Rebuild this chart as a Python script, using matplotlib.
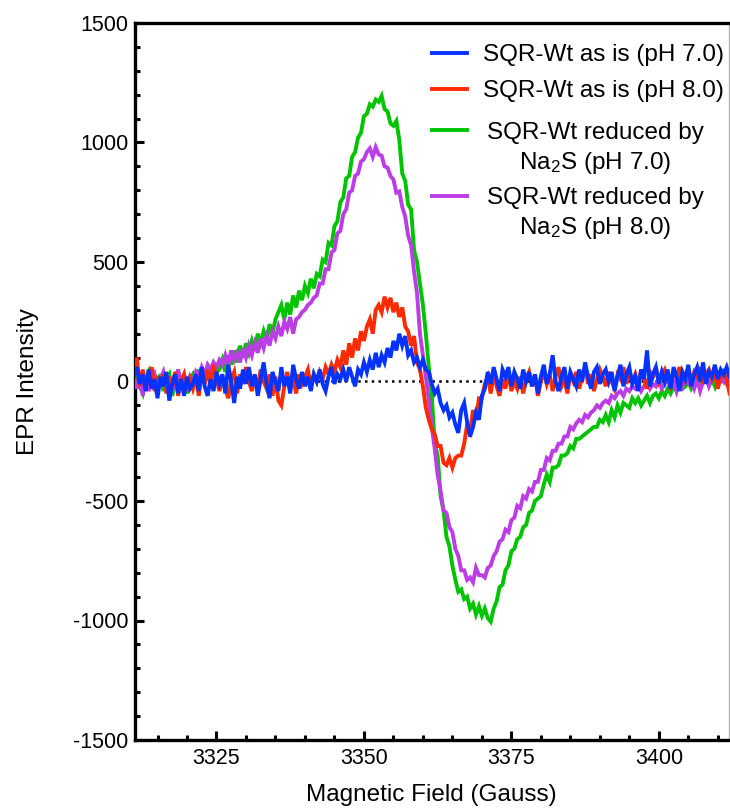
import numpy as np
import matplotlib
matplotlib.use("Agg")
import matplotlib.pyplot as plt
from matplotlib.ticker import MultipleLocator

plt.rcParams['font.family'] = ['Liberation Sans', 'DejaVu Sans']
plt.rcParams['mathtext.fontset'] = 'custom'
plt.rcParams['mathtext.rm'] = 'Liberation Sans'
plt.rcParams['mathtext.default'] = 'regular'
plt.rcParams['axes.unicode_minus'] = False

# Magnetic field axis: 0.5 G steps from 3311 to 3412 G
field = 3311.0 + 0.5 * np.arange(203)

# SQR-Wt as is (pH 7.0)
wt_ph7 = [
    20, 60, -10, 30, -40, 50, -30, 10, -70, 20,
    -20, 40, -80, -10, 30, -50, 10, -60, 20, -30,
    -10, 30, -40, 60, -20, -60, 10, -40, 40, -10,
    30, -50, 70, 0, -90, 20, -30, 50, -10, 60,
    -20, 30, -60, 10, 80, -10, -70, 40, 0, -40,
    60, -20, 20, -50, 70, 10, -30, 40, -20, 20,
    -40, 30, 0, 50, -10, -40, 20, 60, -10, 30,
    10, 50, 0, 60, 20, -20, 50, 30, 80, 40,
    90, 50, 120, 60, 110, 80, 140, 100, 170, 130,
    200, 150, 190, 110, 130, 80, 100, 60, 90, 50,
    40, -10, -50, -30, -90, -120, -100, -150, -130, -180,
    -215, -120, -90, -170, -230, -190, -130, -160, -60, -30,
    40, -10, 60, 10, -40, 50, 20, 60, -20, 40,
    10, -30, 50, 0, 40, -20, 30, -50, 20, 70,
    -10, 30, 110, 0, -40, 20, 60, -30, 40, 10,
    -20, 50, 0, 80, 20, -30, 40, 60, -10, 30,
    50, 0, 40, -40, 20, 70, -20, 30, 60, -10,
    20, -40, 50, 10, 130, -20, 30, 60, -10, 40,
    0, 50, -30, 60, 20, -40, 40, 10, 70, -20,
    30, 60, 0, 80, -10, 40, 20, 70, 10, 50,
    30, 60, 20,
]

# SQR-Wt as is (pH 8.0)
wt_ph8 = [
    40, 100, -20, 50, -30, 20, 60, -40, 10, -10,
    30, -50, 20, -20, 40, -60, 0, 30, -40, 10,
    -30, 20, -60, 40, -10, 50, -20, 70, 10, -40,
    20, -30, -70, 10, 40, -50, 30, -10, 60, 0,
    -40, 20, -20, 50, 0, -30, 30, -60, 20, -80,
    -100, -20, 40, -30, 10, -50, 30, -10, 20, 50,
    -20, 30, 0, 40, 10, 60, 30, 70, 40, 90,
    60, 130, 70, 160, 100, 180, 130, 210, 170, 230,
    260, 200, 300, 320, 290, 355, 310, 350, 290, 330,
    270, 310, 230, 210, 150, 190, 80, 50, -20, -110,
    -160, -200, -220, -270, -270, -340, -350, -320, -360, -320,
    -310, -310, -260, -180, -210, -120, -160, -70, -70, -10,
    20, -50, 30, -20, -60, 10, -30, 40, -40, 0,
    -30, 20, -50, 10, 40, -20, 30, -60, 0, 40,
    -10, 30, -40, 20, 60, -20, 10, -50, 30, 0,
    40, -30, 20, 60, -10, 30, -40, 10, 50, 20,
    -20, 40, 0, -30, 30, 10, 60, -10, 40, 0,
    30, -20, 50, 10, -30, 40, 20, 60, 0, 30,
    50, 10, -20, 40, 20, 60, -10, 30, 50, 0,
    40, 20, 60, -10, 30, 50, 10, 40, -30, 20,
    40, 10, -50,
]

# SQR-Wt reduced by Na2S (pH 7.0)
red_ph7 = [
    0, 60, -20, -50, 10, 40, -30, 20, -10, 30,
    -40, 10, 30, -60, 0, 40, -20, 20, -50, 10,
    30, -10, 50, 10, 40, 60, 20, 70, 40, 50,
    90, 40, 110, 70, 130, 80, 150, 100, 160, 120,
    170, 130, 200, 160, 210, 170, 240, 200, 260, 290,
    320, 260, 330, 280, 360, 310, 380, 340, 400, 370,
    430, 390, 450, 440, 510, 500, 580, 570, 650, 670,
    750, 770, 850, 860, 940, 960, 1020, 1040, 1110, 1120,
    1160, 1150, 1180, 1170, 1195, 1140, 1130, 1080, 1070, 1090,
    1010, 870, 840, 740, 720, 550, 500, 410, 320, 200,
    60, -60, -260, -310, -480, -540, -650, -690, -770, -830,
    -880, -870, -910, -900, -950, -930, -975, -940, -980, -950,
    -990, -1005, -950, -920, -860, -850, -790, -770, -710, -700,
    -660, -650, -610, -600, -550, -540, -500, -490, -480, -430,
    -390, -420, -360, -360, -350, -310, -310, -300, -270, -280,
    -240, -240, -230, -220, -210, -200, -190, -190, -160, -170,
    -140, -170, -120, -150, -100, -130, -90, -100, -110, -70,
    -90, -70, -100, -80, -60, -90, -60, -50, -70, -40,
    -60, -30, -50, -20, -40, -10, -30, -20, 0, -30,
    -10, 10, -20, 0, 20, -10, 10, -20, 30, 0,
    10, -10, 20,
]

# SQR-Wt reduced by Na2S (pH 8.0)
red_ph8 = [
    10, -30, 40, -60, 20, -40, 0, 30, -20, 10,
    40, -20, 20, -40, 10, 50, -10, 30, -30, 20,
    0, 40, 20, 60, 30, 70, 50, 80, 60, 90,
    70, 110, 70, 130, 90, 120, 80, 140, 100, 150,
    110, 160, 120, 180, 140, 190, 150, 210, 180, 230,
    190, 250, 220, 270, 200, 260, 270, 290, 300, 320,
    330, 350, 360, 410, 410, 470, 470, 540, 550, 620,
    630, 700, 720, 790, 800, 860, 870, 920, 930, 960,
    975, 940, 980, 950, 945, 900, 895, 860, 845, 790,
    795, 730, 690, 610, 570, 460, 370, 200, 110, 20,
    -80, -190, -280, -390, -460, -540, -550, -610, -630, -700,
    -730, -790, -790, -830, -820, -840, -780, -810, -810, -820,
    -780, -770, -730, -710, -670, -660, -620, -630, -580, -570,
    -520, -530, -480, -490, -450, -460, -420, -420, -370, -370,
    -320, -330, -290, -290, -260, -260, -230, -230, -190, -200,
    -175, -160, -170, -140, -150, -130, -120, -100, -110, -90,
    -80, -90, -60, -70, -50, -40, -60, -30, -40, -20,
    -30, -10, -40, -20, 0, -30, -10, -20, 10, -30,
    -10, 10, -20, 0, -40, 10, -20, 20, -10, 0,
    -30, 10, -40, 0, 20, -20, 10, 30, -10, 20,
    0, 30, 10,
]

labels = [
    "SQR-Wt as is (pH 7.0)",
    "SQR-Wt as is (pH 8.0)",
    "SQR-Wt reduced by\nNa$_2$S (pH 7.0)",
    "SQR-Wt reduced by\nNa$_2$S (pH 8.0)",
]
colors = ["#0433FF", "#FF2A00", "#00C400", "#BC3CE6"]
series = [wt_ph7, wt_ph8, red_ph7, red_ph8]
zorders = [6, 5, 3, 4]

W, H = 730, 810
fig = plt.figure(figsize=(W / 100, H / 100), dpi=100)
ax_l, ax_r, ax_t, ax_b = 134.5, 729.0, 23.0, 740.0
ax = fig.add_axes([ax_l / W, 1 - ax_b / H, (ax_r - ax_l) / W, (ax_b - ax_t) / H])

# zero baseline
ax.axhline(0, color="black", lw=1.8, linestyle=(0, (1, 1.7)), zorder=1)

for y, c, z in zip(series, colors, zorders):
    ax.plot(field, y, color=c, lw=2.8, zorder=z, solid_joinstyle="miter")

ax.set_xlim(3311.1, 3411.9)
ax.set_ylim(-1500, 1500)
ax.xaxis.set_major_locator(MultipleLocator(25))
ax.xaxis.set_minor_locator(MultipleLocator(5))
ax.yaxis.set_major_locator(MultipleLocator(500))
ax.yaxis.set_minor_locator(MultipleLocator(100))

for s in ["left", "bottom", "top"]:
    ax.spines[s].set_linewidth(2.4)
    ax.spines[s].set_color("black")
ax.spines["right"].set_linewidth(1.0)
ax.spines["right"].set_color("#b0b0b0")

ax.tick_params(axis="both", which="major", direction="in", length=6.5, width=2.2,
               labelsize=15.5, color="black")
ax.tick_params(axis="both", which="minor", direction="in", length=3.8, width=2.2)
ax.tick_params(axis="y", which="major", pad=4.5)
ax.tick_params(axis="x", which="major", pad=6)
ax.tick_params(axis="x", which="both", top=False)
ax.tick_params(axis="y", which="both", right=False)

ax.set_xlabel("Magnetic Field (Gauss)", fontsize=17.5, va="center")
ax.xaxis.set_label_coords(0.5, (ax_b - 795) / (ax_b - ax_t))
ax.set_ylabel("EPR Intensity", fontsize=17.5, va="center")
ax.yaxis.set_label_coords((28 - ax_l) / (ax_r - ax_l), 0.5)

# legend drawn in axes fraction coordinates
def fx(px):
    return (px - ax_l) / (ax_r - ax_l)

def fy(py):
    return (ax_b - py) / (ax_b - ax_t)

handle_y = [52.7, 88.5, 129.5, 195.5]
for hy, c in zip(handle_y, colors):
    ax.plot([fx(432), fx(467)], [fy(hy), fy(hy)], color=c, lw=2.8,
            transform=ax.transAxes, clip_on=False, zorder=10)

lfs = 17.5
ax.text(fx(483), fy(52.5 + 8.7), labels[0], transform=ax.transAxes,
        ha="left", va="baseline", fontsize=lfs)
ax.text(fx(483), fy(88.7 + 8.7), labels[1], transform=ax.transAxes,
        ha="left", va="baseline", fontsize=lfs)
for lab, y1, y2 in [(labels[2], 130, 160), (labels[3], 195.3, 225)]:
    first, second = lab.split("\n")
    ax.text(fx(595.5), fy(y1 + 8.7), first, transform=ax.transAxes,
            ha="center", va="baseline", fontsize=lfs)
    ax.text(fx(595.5), fy(y2 + 8.7), second, transform=ax.transAxes,
            ha="center", va="baseline", fontsize=lfs)

fig.savefig("out.png", dpi=100)
